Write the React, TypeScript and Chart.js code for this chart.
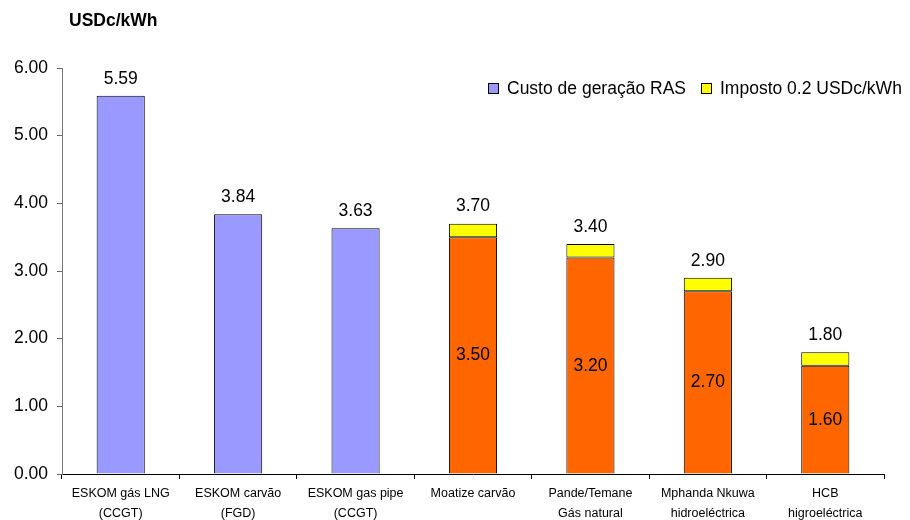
import React, { useEffect, useRef } from "react";
import { Chart, registerables } from "chart.js";

Chart.register(...registerables);

const categories: string[][] = [
  ["ESKOM gás LNG", "(CCGT)"],
  ["ESKOM carvão", "(FGD)"],
  ["ESKOM gas pipe", "(CCGT)"],
  ["Moatize carvão", ""],
  ["Pande/Temane", "Gás natural"],
  ["Mphanda Nkuwa", "hidroeléctrica"],
  ["HCB", "higroeléctrica"],
];
const costValues: number[] = [5.59, 3.84, 3.63, 3.5, 3.2, 2.7, 1.6];
const taxValues: (number | null)[] = [null, null, null, 0.2, 0.2, 0.2, 0.2];
const seriesNames: string[] = ["Custo de geração RAS", "Imposto 0.2 USDc/kWh"];
const yTicks: number[] = [0, 1, 2, 3, 4, 5, 6];
const unitLabel = "USDc/kWh";

const BLUE = "#9999FF";
const ORANGE = "#FF6600";
const YELLOW = "#FFFF00";
const FONT = "'Liberation Sans', Arial, sans-serif";

export default function App() {
  const ref = useRef<HTMLCanvasElement | null>(null);

  useEffect(() => {
    document.body.style.margin = "0";
    const canvas = ref.current;
    if (!canvas) return;

    const labelPlugin = {
      id: "labels",
      afterDatasetsDraw(chart: any) {
        const ctx = chart.ctx;
        const y = chart.scales.y;
        const meta0 = chart.getDatasetMeta(0);
        ctx.save();
        ctx.fillStyle = "#000";
        ctx.font = `17.5px ${FONT}`;
        ctx.textAlign = "center";
        ctx.textBaseline = "middle";
        costValues.forEach((v, i) => {
          const x = meta0.data[i].x;
          const tax = taxValues[i] || 0;
          const total = v + tax;
          const yt = y.getPixelForValue(total);
          ctx.fillText(total.toFixed(2), x, yt - 17);
          if (taxValues[i] != null) {
            const ym = (y.getPixelForValue(0) + y.getPixelForValue(v)) / 2;
            ctx.fillText(v.toFixed(2), x, ym);
          }
        });
        // title
        ctx.font = `bold 17.5px ${FONT}`;
        ctx.textAlign = "left";
        ctx.fillText(unitLabel, 69, 21);
        // legend
        const items = [
          { text: seriesNames[0], color: BLUE, x: 488 },
          { text: seriesNames[1], color: YELLOW, x: 701 },
        ];
        ctx.font = `17.5px ${FONT}`;
        items.forEach((it) => {
          ctx.fillStyle = it.color;
          ctx.fillRect(it.x, 83, 10, 10);
          ctx.strokeStyle = "#000";
          ctx.lineWidth = 1;
          ctx.strokeRect(it.x + 0.5, 83.5, 10, 10);
          ctx.fillStyle = "#000";
          ctx.fillText(it.text, it.x + 19, 89);
        });
        ctx.restore();
      },
    };

    const chart = new Chart(canvas, {
      type: "bar",
      data: {
        labels: categories,
        datasets: [
          {
            label: seriesNames[0],
            data: costValues,
            backgroundColor: costValues.map((_, i) => (taxValues[i] == null ? BLUE : ORANGE)),
            borderColor: "#000",
            borderWidth: 1,
            borderSkipped: "bottom",
            barPercentage: 0.82,
            categoryPercentage: 0.5,
          },
          {
            label: seriesNames[1],
            data: taxValues,
            backgroundColor: YELLOW,
            borderColor: "#000",
            borderWidth: 1,
            borderSkipped: false,
            barPercentage: 0.82,
            categoryPercentage: 0.5,
          },
        ],
      },
      options: {
        animation: false,
        responsive: false,
        maintainAspectRatio: false,
        layout: { padding: { top: 68, right: 26, left: 0, bottom: 0 } },
        plugins: { legend: { display: false }, tooltip: { enabled: false } },
        scales: {
          x: {
            stacked: true,
            offset: true,
            grid: {
              offset: true,
              drawOnChartArea: false,
              drawTicks: true,
              tickLength: 5,
              color: "#000",
            },
            border: { color: "#000", width: 1 },
            ticks: {
              color: "#000",
              font: { family: FONT, size: 12.5, lineHeight: 1.55 },
              maxRotation: 0,
              autoSkip: false,
              padding: 5,
            },
            afterFit(scale: any) {
              scale.height = 46;
            },
          },
          y: {
            stacked: true,
            min: 0,
            max: 6,
            afterBuildTicks(scale: any) {
              scale.ticks = yTicks.map((v) => ({ value: v }));
            },
            grid: {
              drawOnChartArea: false,
              drawTicks: true,
              tickLength: 5,
              color: "#666",
            },
            border: { color: "#777", width: 1 },
            ticks: {
              color: "#000",
              font: { family: FONT, size: 17.5 },
              padding: 9,
              callback: (v: any) => Number(v).toFixed(2),
            },
            afterFit(scale: any) {
              scale.width = 62;
            },
          },
        },
      },
      plugins: [labelPlugin],
    } as any);

    return () => chart.destroy();
  }, []);

  return <canvas ref={ref} width={910} height={520} style={{ display: "block" }} />;
}
